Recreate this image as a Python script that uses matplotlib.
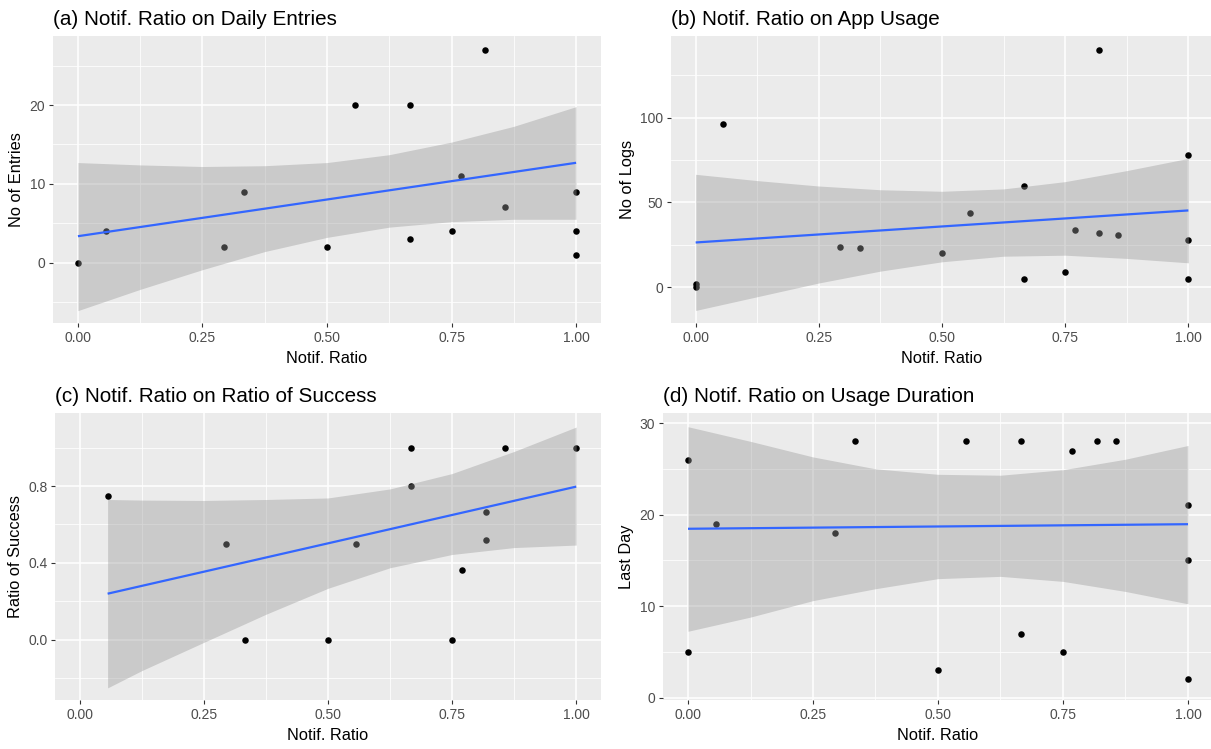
import matplotlib
matplotlib.use("Agg")
import matplotlib.pyplot as plt
from matplotlib.ticker import FixedLocator

plt.rcParams["font.family"] = ["Liberation Sans", "DejaVu Sans"]

# ---------------------------------------------------------------- data
# (a) notification ratio vs. number of diary entries
ratio_a = [0, 0.056, 0.294, 0.333, 0.5, 0.556, 0.667, 0.667, 0.75, 0.769, 0.818, 0.857, 1, 1, 1]
entries = [0, 4, 2, 9, 2, 20, 20, 3, 4, 11, 27, 7, 9, 4, 1]

# (b) notification ratio vs. number of app logs
ratio_b = [0, 0, 0.056, 0.294, 0.333, 0.5, 0.556, 0.667, 0.667, 0.75, 0.769, 0.818, 0.818, 0.857, 1, 1, 1]
logs = [0, 2, 96, 24, 23, 20, 44, 60, 5, 9, 34, 32, 140, 31, 78, 28, 5]

# (c) notification ratio vs. ratio of success
ratio_c = [0.056, 0.294, 0.333, 0.5, 0.556, 0.667, 0.667, 0.75, 0.769, 0.818, 0.818, 0.857, 1]
success = [0.75, 0.5, 0, 0, 0.5, 1, 0.8, 0, 0.364, 0.667, 0.52, 1, 1]

# (d) notification ratio vs. last day of usage
ratio_d = [0, 0, 0.056, 0.294, 0.333, 0.5, 0.556, 0.667, 0.667, 0.75, 0.769, 0.818, 0.857, 1, 1, 1]
last_day = [26, 5, 19, 18, 28, 3, 28, 28, 7, 5, 27, 28, 28, 21, 15, 2]

# linear fits (ends) and 95% confidence bands
band_x = [0, 0.125, 0.25, 0.375, 0.5, 0.625, 0.75, 0.875, 1]
band_x_c = [0.056, 0.125, 0.25, 0.375, 0.5, 0.625, 0.75, 0.875, 1]

fit_a = [3.35, 12.67]
upper_a = [12.7, 12.4, 12.2, 12.3, 12.7, 13.7, 15.3, 17.3, 19.8]
lower_a = [-6.1, -3.4, -0.9, 1.4, 3.2, 4.5, 5.2, 5.5, 5.5]

fit_b = [26.4, 45.3]
upper_b = [66.6, 62.9, 59.7, 57.5, 56.6, 58.0, 62.3, 68.8, 76.0]
lower_b = [-13.7, -5.6, 2.5, 9.5, 15.0, 18.3, 18.9, 17.0, 14.4]

fit_c = [0.24, 0.797]
upper_c = [0.73, 0.727, 0.725, 0.73, 0.738, 0.785, 0.865, 0.98, 1.107]
lower_c = [-0.25, -0.16, -0.013, 0.133, 0.268, 0.375, 0.444, 0.48, 0.493]

fit_d = [18.45, 18.95]
upper_d = [29.6, 28.0, 26.3, 25.0, 24.4, 24.3, 24.9, 26.05, 27.55]
lower_d = [7.25, 8.8, 10.6, 11.9, 13.0, 13.25, 12.7, 11.6, 10.25]

x_ticks = [0, 0.25, 0.5, 0.75, 1.0]
x_tick_labels = ["0.00", "0.25", "0.50", "0.75", "1.00"]

# ---------------------------------------------------------------- layout
W, H = 1211, 749
fig = plt.figure(figsize=(W / 100, H / 100), dpi=100)


def panel(left, right, top, bottom):
    return fig.add_axes([left / W, 1 - bottom / H, (right - left) / W, (bottom - top) / H])


panels = [
    dict(box=(53, 601, 36, 323), x=ratio_a, y=entries, bx=band_x, up=upper_a, lo=lower_a,
         fit=fit_a, title="(a) Notif. Ratio on Daily Entries", ylabel="No of Entries",
         ylim=(-7.67, 28.77), yticks=[0, 10, 20], ylabels=["0", "10", "20"],
         yminor=[-5, 5, 15, 25]),
    dict(box=(671, 1213, 36, 323), x=ratio_b, y=logs, bx=band_x, up=upper_b, lo=lower_b,
         fit=fit_b, title="(b) Notif. Ratio on App Usage", ylabel="No of Logs",
         ylim=(-21.1, 148.2), yticks=[0, 50, 100], ylabels=["0", "50", "100"],
         yminor=[-25, 25, 75, 125]),
    dict(box=(55, 601, 413, 700), x=ratio_c, y=success, bx=band_x_c, up=upper_c, lo=lower_c,
         fit=fit_c, title="(c) Notif. Ratio on Ratio of Success", ylabel="Ratio of Success",
         ylim=(-0.313, 1.18), yticks=[0.0, 0.4, 0.8], ylabels=["0.0", "0.4", "0.8"],
         yminor=[-0.2, 0.2, 0.6, 1.0]),
    dict(box=(663, 1213, 413, 700), x=ratio_d, y=last_day, bx=band_x, up=upper_d, lo=lower_d,
         fit=fit_d, title="(d) Notif. Ratio on Usage Duration", ylabel="Last Day",
         ylim=(-0.26, 31.1), yticks=[0, 10, 20, 30], ylabels=["0", "10", "20", "30"],
         yminor=[5, 15, 25]),
]

for p in panels:
    ax = panel(*p["box"])
    ax.set_facecolor("#EBEBEB")
    for s in ax.spines.values():
        s.set_visible(False)

    ax.set_xlim(-0.05, 1.05)
    ax.set_ylim(*p["ylim"])
    ax.xaxis.set_major_locator(FixedLocator(x_ticks))
    ax.xaxis.set_minor_locator(FixedLocator([0.125, 0.375, 0.625, 0.875]))
    ax.set_xticklabels(x_tick_labels)
    ax.yaxis.set_major_locator(FixedLocator(p["yticks"]))
    ax.yaxis.set_minor_locator(FixedLocator(p["yminor"]))
    ax.set_yticklabels(p["ylabels"])

    ax.set_axisbelow(True)
    ax.grid(which="major", color="white", linewidth=1.1)
    ax.grid(which="minor", color="white", linewidth=0.55)
    ax.tick_params(which="major", length=3, width=0.8, color="#333333",
                   labelsize=10, labelcolor="#4D4D4D", pad=2.5)
    ax.tick_params(which="minor", length=0)

    # points, then the translucent confidence band, then the fitted line
    ax.scatter(p["x"], p["y"], s=22, color="black", linewidths=0, zorder=2)
    ax.fill_between(p["bx"], p["lo"], p["up"], color="#999999", alpha=0.4,
                    linewidth=0, zorder=3)
    ax.plot([p["bx"][0], p["bx"][-1]], p["fit"], color="#3366FF", linewidth=1.6,
            zorder=4, solid_capstyle="butt")

    ax.set_title(p["title"], loc="left", fontsize=14.9, pad=8)
    ax.set_xlabel("Notif. Ratio", fontsize=11.8, labelpad=4.5)
    ax.set_ylabel(p["ylabel"], fontsize=11.8, labelpad=4)

fig.savefig("out.png", dpi=100, facecolor="white")
